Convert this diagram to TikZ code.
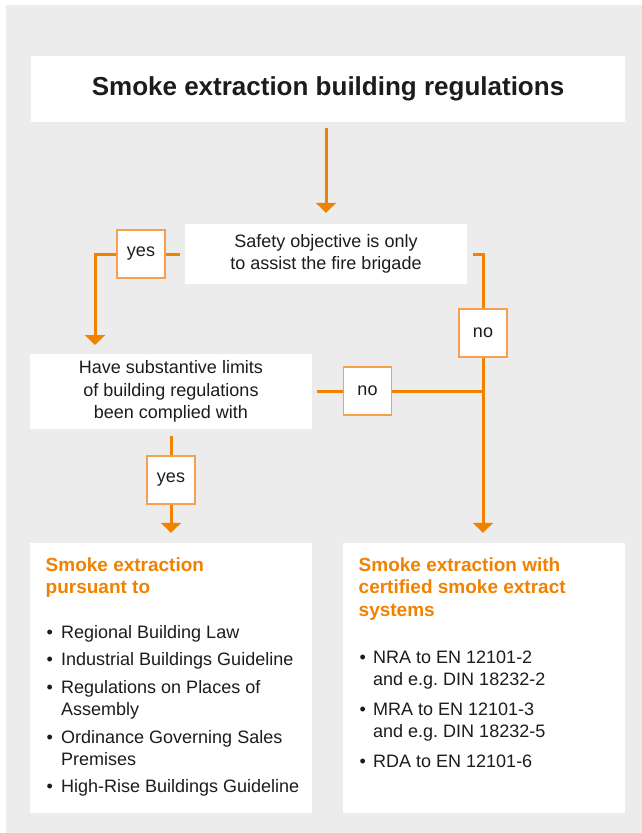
\documentclass[tikz,border=0pt]{standalone}
\usepackage{fontspec}
\setmainfont{Liberation Sans}
\usetikzlibrary{arrows.meta}
\definecolor{og}{RGB}{240,130,0}
\definecolor{ogl}{RGB}{244,160,80}
\definecolor{bg}{RGB}{236,236,236}
\definecolor{tx}{RGB}{28,28,28}
\tikzset{
  box/.style={fill=white, draw=none, inner sep=0pt, text=tx, align=center,
    font=\fontsize{18}{22.5}\selectfont},
  lbl/.style={fill=white, draw=ogl, line width=1.5pt, inner sep=0pt,
    minimum width=48pt, minimum height=48pt, text=tx, font=\fontsize{18}{22}\selectfont},
  conn/.style={draw=og, line width=3pt},
  arr/.style={conn, -{Triangle[width=20pt,length=10pt]}},
  head/.style={anchor=base west, inner sep=0pt, text=og, font=\bfseries\fontsize{19}{22}\selectfont},
  item/.style={anchor=base west, inner sep=0pt, text=tx, font=\fontsize{18}{22}\selectfont},
  bul/.style={anchor=base west, inner sep=0pt, text=tx, font=\fontsize{18}{22}\selectfont}
}
\begin{document}
\begin{tikzpicture}[x=1pt,y=-1pt]
\useasboundingbox (0,0) rectangle (642,833);
\fill[white] (0,0) rectangle (642,833);
\fill[bg] (6,5) rectangle (642,833);

% main boxes
\node[box, minimum width=594pt, minimum height=66pt, font=\bfseries\fontsize{26}{30}\selectfont]
  (title) at (328,89) {Smoke extraction building regulations};
\node[box, minimum width=282pt, minimum height=60pt] (safety) at (326,254)
  {Safety objective is only\\to assist the fire brigade};
\node[box, minimum width=282pt, minimum height=75pt] (have) at (171,391.5)
  {Have substantive limits\\of building regulations\\been complied with};
\node[box, minimum width=282pt, minimum height=270pt] (left) at (171,678) {};
\node[box, minimum width=282pt, minimum height=270pt] (right) at (484,678) {};

% label boxes
\node[lbl] (yes1) at (141,254) {yes};
\node[lbl] (no1) at (483,333) {no};
\node[lbl] (no2) at (367.5,391) {no};
\node[lbl] (yes2) at (171,480) {yes};
\coordinate (haveIn) at (95,354);

% connectors
\draw[arr, shorten <=6pt, shorten >=11pt] (title.south -| safety.north) -- (safety.north);
\draw[conn, shorten <=5pt] (safety.west) -- (yes1.west -| yes1.east);
\draw[arr, shorten >=9pt] (yes1.west) -| (haveIn);
\draw[conn, shorten <=6pt] (safety.east) -| (no1.north);
\draw[arr, shorten >=10pt] (no1.south) -- (no1.south |- right.north);
\draw[conn, shorten <=5pt] (have.east |- no2.west) -- (no2.west);
\draw[conn] (no2.east) -- (no2.east -| no1.south);
\draw[conn, shorten <=7pt] (have.south) -- (yes2.north);
\draw[arr, shorten >=10pt] (yes2.south) -- (yes2.south |- left.north);

% left box content
\node[head] (lh1) at (45.5,571) {Smoke extraction};
\node[head] (lh2) at (45.5,593.5) {pursuant to};
\foreach \y [count=\i] in {638.5,665.5,693.5,743.5,792.5}{
  \node[bul] (lb\i) at (46.5,\y) {•};
}
\node[item] (l1) at (61,638.5) {Regional Building Law};
\node[item] (l2) at (61,665.5) {Industrial Buildings Guideline};
\node[item] (l3) at (61,693.5) {Regulations on Places of};
\node[item] (l3b) at (61,715.5) {Assembly};
\node[item] (l4) at (61,743.5) {Ordinance Governing Sales};
\node[item] (l4b) at (61,765.5) {Premises};
\node[item] (l5) at (61,792.5) {High-Rise Buildings Guideline};

% right box content
\node[head] (rh1) at (358.5,571) {Smoke extraction with};
\node[head] (rh2) at (358.5,593.5) {certified smoke extract};
\node[head] (rh3) at (358.5,616) {systems};
\foreach \y [count=\i] in {663.5,715.5,767.5}{
  \node[bul] (rb\i) at (359.5,\y) {•};
}
\node[item] (r1) at (373,663.5) {NRA to EN 12101-2};
\node[item] (r1b) at (373,685.5) {and e.g.\ DIN 18232-2};
\node[item] (r2) at (373,715.5) {MRA to EN 12101-3};
\node[item] (r2b) at (373,737.5) {and e.g.\ DIN 18232-5};
\node[item] (r3) at (373,767.5) {RDA to EN 12101-6};
\end{tikzpicture}
\end{document}
